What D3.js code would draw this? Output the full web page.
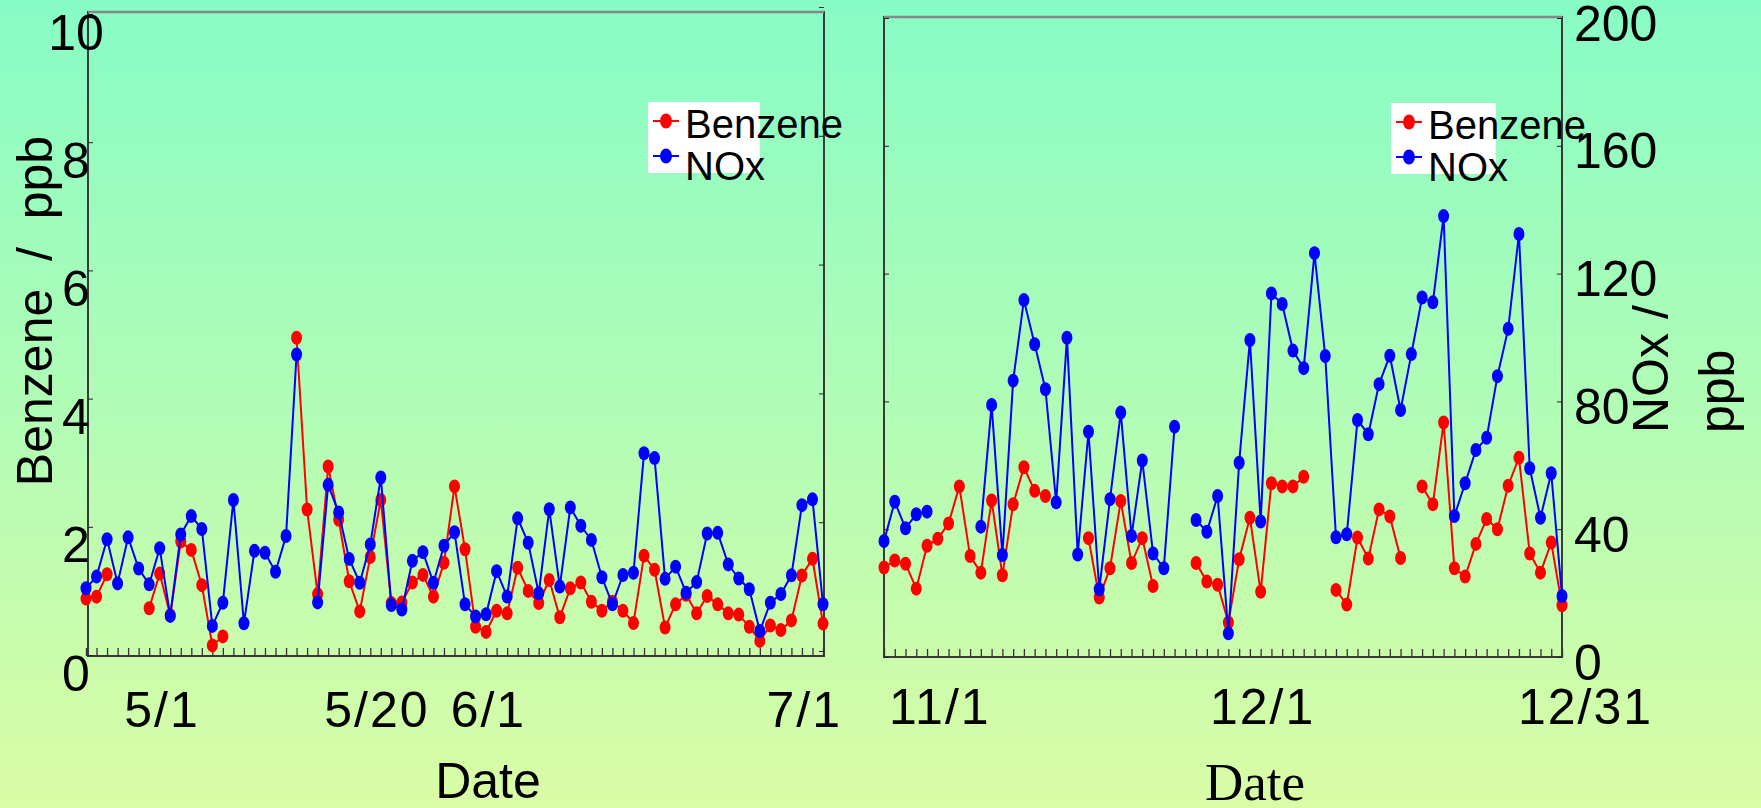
<!DOCTYPE html>
<html>
<head>
<meta charset="utf-8">
<script src="https://cdn.jsdelivr.net/npm/d3@7"></script>
<style>
  html, body { margin: 0; padding: 0; overflow: hidden; }
  svg { display: block; font-family: "Liberation Sans", Arial, sans-serif; }
</style>
</head>
<body>
<div id="chart"></div>
<script>
// ---- data ----
const leftStart = new Date(2009, 3, 22);   // 4/22 .. 7/1
const rightStart = new Date(2009, 9, 29);  // 10/29 .. 12/31

const leftBenzene = [0.88, 0.91, 1.26, null, null, null, 0.73, 1.27, 0.62, 1.77,
  1.64, 1.09, 0.15, 0.29, null, null, null, null, null, null,
  4.95, 2.27, 0.95, 2.94, 2.11, 1.15, 0.68, 1.53, 2.42, 0.81,
  0.82, 1.13, 1.25, 0.91, 1.44, 2.63, 1.65, 0.44, 0.36, 0.69,
  0.65, 1.36, 1.00, 0.81, 1.17, 0.59, 1.04, 1.13, 0.83, 0.69,
  0.83, 0.69, 0.50, 1.55, 1.33, 0.43, 0.79, 0.94, 0.65, 0.92,
  0.79, 0.65, 0.63, 0.44, 0.22, 0.46, 0.39, 0.54, 1.24, 1.50, 0.49];

const leftNOx = [19.5, 23.1, 34.7, 21.0, 35.3, 25.6, 20.7, 31.9, 10.9, 36.2,
  41.9, 37.9, 7.8, 15.0, 46.9, 8.6, 31.1, 30.5, 24.6, 35.7,
  92.1, null, 15.1, 51.6, 43.0, 28.6, 21.2, 33.1, 53.9, 14.3,
  12.9, 28.0, 30.7, 21.2, 32.7, 36.9, 14.5, 10.7, 11.4, 24.8,
  16.9, 41.2, 33.6, 17.9, 44.0, 20.0, 44.6, 38.9, 34.5, 22.9,
  14.5, 23.6, 24.3, 61.4, 59.9, 22.4, 26.2, 18.1, 21.4, 36.5,
  36.7, 26.9, 22.5, 19.2, 6.2, 15.0, 17.7, 23.5, 45.3, 47.1, 14.5];

const rightBenzene = [1.40, 1.51, 1.46, 1.07, 1.74, 1.85, 2.09, 2.67, 1.58, 1.32,
  2.45, 1.28, 2.39, 2.97, 2.60, 2.52, null, null, null, 1.86,
  0.93, 1.39, 2.44, 1.47, 1.86, 1.11, null, null, null, 1.47,
  1.18, 1.13, 0.54, 1.53, 2.18, 1.02, 2.72, 2.67, 2.67, 2.82,
  null, null, 1.05, 0.82, 1.87, 1.54, 2.31, 2.20, 1.55, null,
  2.67, 2.39, 3.67, 1.39, 1.26, 1.77, 2.16, 2.00, 2.68, 3.12,
  1.62, 1.32, 1.79, 0.81];

const rightNOx = [36.3, 48.6, 40.3, 44.7, 45.5, null, null, null, null, 40.8,
  78.9, 31.9, 86.5, 111.7, 97.9, 83.8, 48.4, 99.9, 32.1, 70.5,
  21.2, 49.4, 76.5, 37.9, 61.5, 32.4, 27.8, 72.1, null, 42.9,
  39.2, 50.4, 7.4, 60.8, 99.2, 42.4, 113.8, 110.5, 95.9, 90.4,
  126.4, 94.2, 37.5, 38.4, 74.2, 69.7, 85.4, 94.3, 77.3, 94.8,
  112.5, 111.0, 138.0, 44.1, 54.4, 64.8, 68.6, 87.9, 102.7, 132.4,
  59.1, 43.6, 57.5, 19.1];

const benzeneTicks = [0, 2, 4, 6, 8, 10];
const noxTicks = [0, 40, 80, 120, 160, 200];
const leftDateLabels = [new Date(2009, 4, 1), new Date(2009, 4, 20), new Date(2009, 5, 1), new Date(2009, 6, 1)];
const rightDateLabels = [new Date(2009, 10, 1), new Date(2009, 11, 1), new Date(2009, 11, 31)];
const seriesNames = ["Benzene", "NOx"];
const seriesColors = ["#ff0000", "#0000ff"];

// ---- svg ----
const W = 1761, H = 808;
const svg = d3.select("#chart").append("svg").attr("width", W).attr("height", H);

const grad = svg.append("defs").append("linearGradient")
  .attr("id", "bg").attr("x1", 0).attr("y1", 0).attr("x2", 0).attr("y2", 1);
grad.append("stop").attr("offset", "0%").attr("stop-color", "#87fcc5");
grad.append("stop").attr("offset", "100%").attr("stop-color", "#dafca6");
svg.append("rect").attr("width", W).attr("height", H).attr("fill", "url(#bg)");

const fmt = d => `${d.getMonth() + 1}/${d.getDate()}`;
const toPts = (start, arr) => arr.map((v, i) => ({ date: d3.timeDay.offset(start, i), v }));

function panel(cfg) {
  const g = svg.append("g");
  const x = d3.scaleTime().domain([cfg.start, d3.timeDay.offset(cfg.start, cfg.benz.length - 1)]).range(cfg.xRange);
  const yB = d3.scaleLinear().domain([0, 10]).range(cfg.yBRange);
  const yN = d3.scaleLinear().domain([0, 200]).range(cfg.yNRange);

  // frame
  g.append("rect")
    .attr("x", cfg.frame[0]).attr("y", cfg.frame[1])
    .attr("width", cfg.frame[2] - cfg.frame[0]).attr("height", cfg.frame[3] - cfg.frame[1])
    .attr("fill", "none").attr("stroke", "#3a3a3a").attr("stroke-width", 2);
  g.append("line")
    .attr("x1", cfg.frame[0]).attr("x2", cfg.frame[2])
    .attr("y1", cfg.frame[1]).attr("y2", cfg.frame[1])
    .attr("stroke", "#888").attr("stroke-width", 2.5);

  // minor day ticks along the bottom
  const xt = g.append("g").attr("transform", `translate(0,${cfg.frame[3]})`)
    .call(d3.axisBottom(x).ticks(d3.timeDay.every(1)).tickSize(-8).tickFormat(""));
  xt.select(".domain").remove();
  xt.selectAll("line").attr("stroke", "#333").attr("stroke-width", 1.3);

  // date labels
  const xl = g.append("g").attr("transform", `translate(0,${cfg.frame[3]})`)
    .call(d3.axisBottom(x).tickValues(cfg.dateLabels).tickSize(0).tickFormat(fmt));
  xl.select(".domain").remove();
  xl.selectAll("text")
    .attr("y", 0).attr("dy", 0)
    .attr("transform", `translate(${cfg.labelDx},${cfg.labelBase - cfg.frame[3]})`)
    .attr("text-anchor", cfg.labelAnchor)
    .attr("letter-spacing", 2)
    .attr("font-size", 50).attr("font-family", "'Liberation Sans', Arial, sans-serif").attr("fill", "#000");

  // benzene axis on the left edge (inward ticks)
  const yl = g.append("g").attr("transform", `translate(${cfg.frame[0]},0)`)
    .call(d3.axisLeft(yB).tickValues(benzeneTicks).tickSize(-5).tickFormat(cfg.benzLabels ? d3.format("d") : ""));
  yl.select(".domain").remove();
  yl.selectAll("line").attr("stroke", "#222");
  if (cfg.benzLabels) {
    yl.selectAll("text")
      .attr("x", -12).attr("dy", 0).attr("text-anchor", "middle")
      .attr("transform", "translate(0,35)")
      .attr("font-size", 50).attr("font-family", "'Liberation Sans', Arial, sans-serif").attr("fill", "#000");
  }

  // NOx axis on the right edge (inward ticks)
  const yr = g.append("g").attr("transform", `translate(${cfg.frame[2]},0)`)
    .call(d3.axisRight(yN).tickValues(noxTicks).tickSize(-5).tickFormat(cfg.noxLabels ? d3.format("d") : ""));
  yr.select(".domain").remove();
  yr.selectAll("line").attr("stroke", "#222");
  if (cfg.noxLabels) {
    yr.selectAll("text")
      .attr("x", 12).attr("dy", 0).attr("text-anchor", "start")
      .attr("transform", "translate(0,22)")
      .attr("font-size", 50).attr("font-family", "'Liberation Sans', Arial, sans-serif").attr("fill", "#000");
  }

  // series: benzene first, NOx on top
  const series = [
    { pts: toPts(cfg.start, cfg.benz), y: yB, color: seriesColors[0] },
    { pts: toPts(cfg.start, cfg.nox), y: yN, color: seriesColors[1] }
  ];
  series.forEach(s => {
    const line = d3.line().defined(d => d.v != null).x(d => x(d.date)).y(d => s.y(d.v));
    g.append("path").datum(s.pts)
      .attr("d", line).attr("fill", "none")
      .attr("stroke", s.color).attr("stroke-width", 2);
    g.selectAll(null).data(s.pts.filter(d => d.v != null)).enter().append("ellipse")
      .attr("cx", d => x(d.date)).attr("cy", d => s.y(d.v))
      .attr("rx", 5.5).attr("ry", 7)
      .attr("fill", s.color);
  });

  // legend
  const lg = g.append("g").attr("transform", `translate(${cfg.legend[0]},${cfg.legend[1]})`);
  lg.append("rect").attr("x", 0).attr("y", 0).attr("width", cfg.legend[2]).attr("height", 71).attr("fill", "#fff");
  seriesNames.forEach((name, i) => {
    const cy = 19 + i * 35;
    lg.append("line").attr("x1", 5).attr("x2", 31).attr("y1", cy).attr("y2", cy)
      .attr("stroke", seriesColors[i]).attr("stroke-width", 2);
    lg.append("ellipse").attr("cx", 18).attr("cy", cy).attr("rx", 6).attr("ry", 7.5).attr("fill", seriesColors[i]);
    lg.append("text").attr("x", 37).attr("y", 36 + i * 42)
      .attr("font-size", 40).attr("fill", "#000").text(name);
  });
  return g;
}

panel({
  start: leftStart, benz: leftBenzene, nox: leftNOx,
  xRange: [86, 823], yBRange: [655, 14], yNRange: [651, 7],
  frame: [88, 12, 824, 656],
  dateLabels: leftDateLabels, labelDx: -57, labelAnchor: "start", labelBase: 727,
  benzLabels: true, noxLabels: false,
  legend: [648, 102, 112]
});

panel({
  start: rightStart, benz: rightBenzene, nox: rightNOx,
  xRange: [884, 1562], yBRange: [657, 18], yNRange: [657, 18],
  frame: [884, 17, 1562, 657],
  dateLabels: rightDateLabels, labelDx: 23, labelAnchor: "middle", labelBase: 724,
  benzLabels: false, noxLabels: true,
  legend: [1391, 103, 105]
});

// axis titles
svg.append("text")
  .attr("transform", "translate(52,311) rotate(-90)")
  .attr("text-anchor", "middle").attr("font-size", 50)
  .style("white-space", "pre").text("Benzene  /  ppb");
svg.append("text")
  .attr("x", 488).attr("y", 798).attr("text-anchor", "middle").attr("font-size", 50).text("Date");
svg.append("text")
  .attr("x", 1255).attr("y", 800).attr("text-anchor", "middle")
  .attr("font-family", "'Liberation Serif', 'Times New Roman', serif").attr("font-size", 53).text("Date");
svg.append("text")
  .attr("transform", "translate(1668,433) rotate(-90)")
  .attr("font-size", 50).text("NOx /");
svg.append("text")
  .attr("transform", "translate(1734,433) rotate(-90)")
  .attr("font-size", 50).text("ppb");
</script>
</body>
</html>
